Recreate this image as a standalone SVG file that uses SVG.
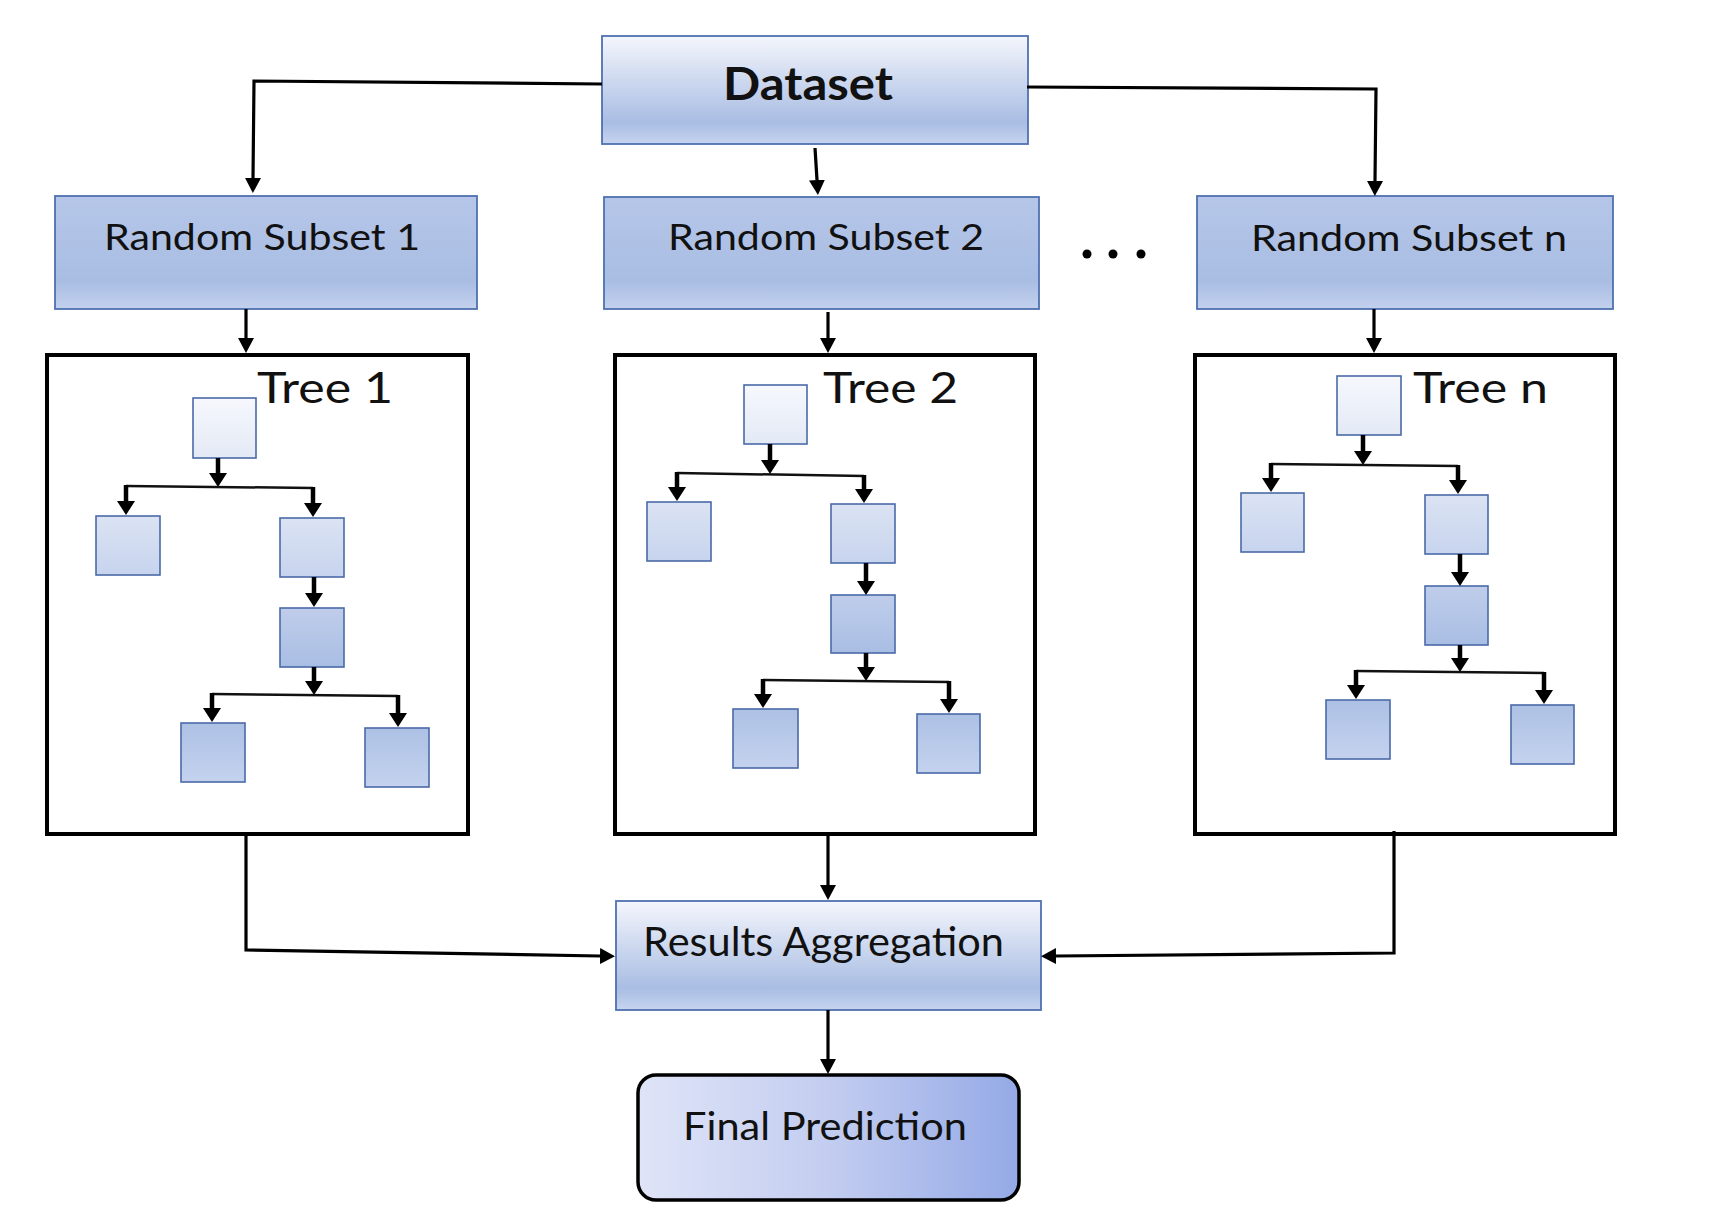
<svg xmlns="http://www.w3.org/2000/svg" width="1720" height="1232" viewBox="0 0 1720 1232">
  <style>
    .box { stroke: #4f71b0; stroke-width: 1.8; }
    .tn { stroke: #4a6aa8; stroke-width: 1.6; }
    .frame { fill: #ffffff; stroke: #000000; stroke-width: 4; }
    .lbl { font-family: Lato, "Liberation Sans", sans-serif; fill: #111111; }
    .conn { fill: none; stroke: #000000; stroke-width: 3.2; }
    .stem { fill: none; stroke: #000000; stroke-width: 4.5; }
    .bar { fill: none; stroke: #111111; stroke-width: 2.5; }
  </style>
  <defs>
    <linearGradient id="gMain" x1="0" y1="0" x2="0" y2="1">
      <stop offset="0" stop-color="#f4f6fc"/>
      <stop offset="0.8" stop-color="#a9bde3"/>
      <stop offset="1" stop-color="#c6d4ef"/>
    </linearGradient>
    <linearGradient id="gSub" x1="0" y1="0" x2="0" y2="1">
      <stop offset="0" stop-color="#b5c6e8"/>
      <stop offset="0.75" stop-color="#a9bde3"/>
      <stop offset="1" stop-color="#c3d1ed"/>
    </linearGradient>
    <linearGradient id="gFinal" x1="0" y1="0" x2="1" y2="0">
      <stop offset="0" stop-color="#dfe4f7"/>
      <stop offset="0.5" stop-color="#c3cdf0"/>
      <stop offset="1" stop-color="#94a9e6"/>
    </linearGradient>
    <linearGradient id="gRoot" x1="0" y1="0" x2="0" y2="1">
      <stop offset="0" stop-color="#f6f8fd"/>
      <stop offset="1" stop-color="#e3e9f5"/>
    </linearGradient>
    <linearGradient id="gChild" x1="0" y1="0" x2="0" y2="1">
      <stop offset="0" stop-color="#dbe3f3"/>
      <stop offset="1" stop-color="#c7d4ee"/>
    </linearGradient>
    <linearGradient id="gMid" x1="0" y1="0" x2="0" y2="1">
      <stop offset="0" stop-color="#bfcdea"/>
      <stop offset="1" stop-color="#a9bee4"/>
    </linearGradient>
    <linearGradient id="gLeaf" x1="0" y1="0" x2="0" y2="1">
      <stop offset="0" stop-color="#adc1e5"/>
      <stop offset="1" stop-color="#c4d2ee"/>
    </linearGradient>
    <marker id="arr" markerUnits="userSpaceOnUse" markerWidth="16" markerHeight="16" refX="0" refY="8" orient="auto">
      <path d="M0,0 L15,8 L0,16 z" fill="#000000"/>
    </marker>
    <marker id="tarr" markerUnits="userSpaceOnUse" markerWidth="15" markerHeight="18" refX="0" refY="9" orient="auto">
      <path d="M0,0 L14,9 L0,18 z" fill="#000000"/>
    </marker>
  </defs>

  <!-- Top-level nodes -->
  <g id="dataset">
    <rect class="box" x="602" y="36" width="426" height="108" fill="url(#gMain)"/>
    <text class="lbl" x="723" y="100" font-size="45" font-weight="bold" textLength="170" lengthAdjust="spacingAndGlyphs">Dataset</text>
  </g>
  <g id="subset1">
    <rect class="box" x="55" y="196" width="422" height="113" fill="url(#gSub)"/>
    <text class="lbl" x="104" y="250" font-size="37" textLength="316" lengthAdjust="spacingAndGlyphs">Random Subset 1</text>
  </g>
  <g id="subset2">
    <rect class="box" x="604" y="197" width="435" height="112" fill="url(#gSub)"/>
    <text class="lbl" x="668" y="250" font-size="37" textLength="316" lengthAdjust="spacingAndGlyphs">Random Subset 2</text>
  </g>
  <g id="ellipsis">
    <circle cx="1087" cy="254" r="4.5" fill="#000000"/>
    <circle cx="1113" cy="254" r="4.5" fill="#000000"/>
    <circle cx="1141" cy="254" r="4.5" fill="#000000"/>
  </g>
  <g id="subsetn">
    <rect class="box" x="1197" y="196" width="416" height="113" fill="url(#gSub)"/>
    <text class="lbl" x="1251" y="251" font-size="37" textLength="316" lengthAdjust="spacingAndGlyphs">Random Subset n</text>
  </g>

  <!-- Tree 1 -->
  <g id="tree1">
    <rect class="frame" x="47" y="355" width="421" height="479"/>
    <text class="lbl" x="257" y="403" font-size="43" textLength="136" lengthAdjust="spacingAndGlyphs">Tree 1</text>
    <rect class="tn" x="193" y="398" width="63" height="60" fill="url(#gRoot)"/>
    <rect class="tn" x="96" y="516" width="64" height="59" fill="url(#gChild)"/>
    <rect class="tn" x="280" y="518" width="64" height="59" fill="url(#gChild)"/>
    <rect class="tn" x="280" y="608" width="64" height="59" fill="url(#gMid)"/>
    <rect class="tn" x="181" y="723" width="64" height="59" fill="url(#gLeaf)"/>
    <rect class="tn" x="365" y="728" width="64" height="59" fill="url(#gLeaf)"/>
    <path class="bar" d="M126,486 L313,488"/>
    <path class="bar" d="M212,694 L398,696"/>
    <path class="stem" d="M218,458 L218,473" marker-end="url(#tarr)"/>
    <path class="stem" d="M126,485 L126,501" marker-end="url(#tarr)"/>
    <path class="stem" d="M313,487 L313,503" marker-end="url(#tarr)"/>
    <path class="stem" d="M314,577 L314,593" marker-end="url(#tarr)"/>
    <path class="stem" d="M314,667 L314,681" marker-end="url(#tarr)"/>
    <path class="stem" d="M212,693 L212,708" marker-end="url(#tarr)"/>
    <path class="stem" d="M398,695 L398,713" marker-end="url(#tarr)"/>
  </g>

  <!-- Tree 2 -->
  <g id="tree2">
    <rect class="frame" x="615" y="355" width="420" height="479"/>
    <text class="lbl" x="823" y="403" font-size="43" textLength="135" lengthAdjust="spacingAndGlyphs">Tree 2</text>
    <rect class="tn" x="744" y="385" width="63" height="59" fill="url(#gRoot)"/>
    <rect class="tn" x="647" y="502" width="64" height="59" fill="url(#gChild)"/>
    <rect class="tn" x="831" y="504" width="64" height="59" fill="url(#gChild)"/>
    <rect class="tn" x="831" y="595" width="64" height="58" fill="url(#gMid)"/>
    <rect class="tn" x="733" y="709" width="65" height="59" fill="url(#gLeaf)"/>
    <rect class="tn" x="917" y="714" width="63" height="59" fill="url(#gLeaf)"/>
    <path class="bar" d="M677,473 L864,476"/>
    <path class="bar" d="M763,680 L949,682"/>
    <path class="stem" d="M770,444 L770,460" marker-end="url(#tarr)"/>
    <path class="stem" d="M677,472 L677,487" marker-end="url(#tarr)"/>
    <path class="stem" d="M864,475 L864,489" marker-end="url(#tarr)"/>
    <path class="stem" d="M866,563 L866,581" marker-end="url(#tarr)"/>
    <path class="stem" d="M866,653 L866,667" marker-end="url(#tarr)"/>
    <path class="stem" d="M763,679 L763,694" marker-end="url(#tarr)"/>
    <path class="stem" d="M949,681 L949,699" marker-end="url(#tarr)"/>
  </g>

  <!-- Tree n -->
  <g id="treen">
    <rect class="frame" x="1195" y="355" width="420" height="479"/>
    <text class="lbl" x="1413" y="403" font-size="43" textLength="135" lengthAdjust="spacingAndGlyphs">Tree n</text>
    <rect class="tn" x="1337" y="376" width="64" height="59" fill="url(#gRoot)"/>
    <rect class="tn" x="1241" y="493" width="63" height="59" fill="url(#gChild)"/>
    <rect class="tn" x="1425" y="495" width="63" height="59" fill="url(#gChild)"/>
    <rect class="tn" x="1425" y="586" width="63" height="59" fill="url(#gMid)"/>
    <rect class="tn" x="1326" y="700" width="64" height="59" fill="url(#gLeaf)"/>
    <rect class="tn" x="1511" y="705" width="63" height="59" fill="url(#gLeaf)"/>
    <path class="bar" d="M1271,464 L1458,466"/>
    <path class="bar" d="M1356,671 L1544,673"/>
    <path class="stem" d="M1363,435 L1363,451" marker-end="url(#tarr)"/>
    <path class="stem" d="M1271,463 L1271,478" marker-end="url(#tarr)"/>
    <path class="stem" d="M1458,465 L1458,480" marker-end="url(#tarr)"/>
    <path class="stem" d="M1460,554 L1460,572" marker-end="url(#tarr)"/>
    <path class="stem" d="M1460,645 L1460,658" marker-end="url(#tarr)"/>
    <path class="stem" d="M1356,670 L1356,685" marker-end="url(#tarr)"/>
    <path class="stem" d="M1544,672 L1544,690" marker-end="url(#tarr)"/>
  </g>

  <g id="results">
    <rect class="box" x="616" y="901" width="425" height="109" fill="url(#gMain)"/>
    <text class="lbl" x="643" y="956" font-size="40" textLength="361" lengthAdjust="spacingAndGlyphs">Results Aggregation</text>
  </g>
  <g id="final">
    <rect x="638" y="1075" width="381" height="125" rx="18" ry="18" fill="url(#gFinal)" stroke="#000000" stroke-width="3.5"/>
    <text class="lbl" x="683" y="1140" font-size="38" textLength="284" lengthAdjust="spacingAndGlyphs">Final Prediction</text>
  </g>

  <!-- Connectors -->
  <g id="connectors">
    <path class="conn" d="M602,84 L254,81 L253,178" marker-end="url(#arr)"/>
    <path class="conn" d="M1027,87 L1376,89 L1375,181" marker-end="url(#arr)"/>
    <path class="conn" d="M815,148 L817,180" marker-end="url(#arr)"/>
    <path class="conn" d="M246,309 L246,338" marker-end="url(#arr)"/>
    <path class="conn" d="M828,312 L828,338" marker-end="url(#arr)"/>
    <path class="conn" d="M1374,309 L1374,338" marker-end="url(#arr)"/>
    <path class="conn" d="M246,834 L246,950 L600,956" marker-end="url(#arr)"/>
    <path class="conn" d="M828,834 L828,885" marker-end="url(#arr)"/>
    <path class="conn" d="M1394,831 L1394,953 L1056,956" marker-end="url(#arr)"/>
    <path class="conn" d="M828,1010 L828,1059" marker-end="url(#arr)"/>
  </g>
</svg>
